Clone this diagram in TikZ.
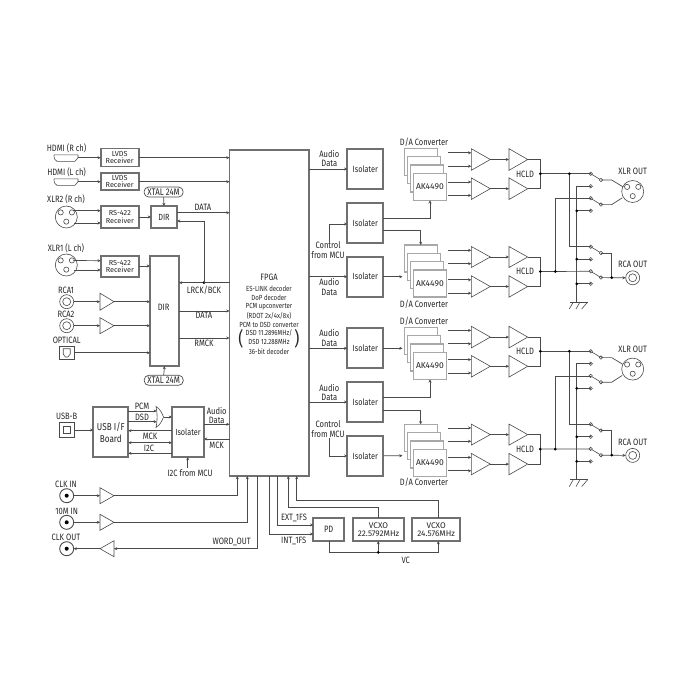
\documentclass[tikz,border=0pt]{standalone}
\usepackage{fontspec}
\setmainfont[FakeStretch=0.82]{Fira Sans}
\newfontfamily\widef[FakeStretch=1.0]{Fira Sans}
\usetikzlibrary{arrows.meta,calc}
\definecolor{ink}{HTML}{262626}
\definecolor{wirec}{HTML}{4A4A4A}
\definecolor{boxc}{HTML}{707070}
\definecolor{dacc}{HTML}{A8A8A8}
\newcounter{lbn}
\tikzset{
  wire/.style={draw=wirec,line width=.7pt},
  arr/.style={wire,-{Stealth[length=3.2pt,width=3pt]}},
  darr/.style={wire,{Stealth[length=3.2pt,width=3pt]}-{Stealth[length=3.2pt,width=3pt]}},
  shp/.style={draw=wirec,line width=.6pt},
  frame/.style={draw=boxc,line width=1.7pt,fill=white,inner sep=0pt,outer sep=0pt,align=center,text=ink},
  dacbox/.style={draw=dacc,line width=1.5pt,fill=white,inner sep=0pt,outer sep=0pt,align=center,text=ink},
  lab/.style={inner sep=0pt,outer sep=0pt,align=center,text=ink,font=\fontsize{9.2}{9.6}\selectfont},
  slab/.style={inner sep=0pt,outer sep=0pt,align=center,text=ink,font=\fontsize{7.4}{8}\selectfont},
  xtalb/.style={draw=wirec,line width=.7pt,rounded corners=4.5pt,inner sep=0pt,outer sep=0pt,minimum width=39pt,minimum height=10pt,text=ink,font=\fontsize{9.6}{10}\selectfont},
  swt/.style={draw=wirec,line width=.6pt,fill=white},
  ptdot/.style={fill=black},
  boxfont/.style={font=\fontsize{8.9}{9.4}\selectfont},
  bigfont/.style={font=\fontsize{10}{11}\selectfont},
  wfont/.style={font=\widef\fontsize{7.3}{7.6}\selectfont},
  vfont/.style={font=\widef\fontsize{8.2}{8.8}\selectfont},
  akfont/.style={font=\widef\fontsize{8.5}{9}\selectfont},
}
% box: name, x1,y1,x2,y2, text; optional style
\newcommand\bx[7][frame,boxfont]{%
  \pgfmathsetmacro\cxx{((#3)+(#5))/2}\pgfmathsetmacro\cyy{((#4)+(#6))/2}%
  \pgfmathsetmacro\wdd{(#5)-(#3)}\pgfmathsetmacro\htt{(#6)-(#4)}%
  \node[#1,minimum width=\wdd pt,minimum height=\htt pt] (#2) at (\cxx,\cyy) {#7};}
\newcommand\lb[4][lab]{\stepcounter{lbn}\node[#1] (lb\thelbn) at (#2,#3) {#4};}
% triangle: name, base x, tip x, y, half height
\newcommand\tri[5]{%
  \draw[shp,fill=white] (#2,#4-#5) -- (#3,#4) -- (#2,#4+#5) -- cycle;
  \coordinate (#1-in) at (#2,#4); \coordinate (#1-out) at (#3,#4);}
\newcommand\xlr[3]{%
  \node[circle,shp,minimum size=22pt,inner sep=0pt,outer sep=0pt] (#1) at (#2,#3) {};
  \draw[shp] ($(#1)+(-5.6,-4.6)$) circle[radius=2.6];
  \draw[shp] ($(#1)+(5.6,-4.6)$) circle[radius=2.6];
  \draw[shp] ($(#1)+(0,4.6)$) circle[radius=2.6];}
\newcommand\rcain[3]{%
  \node[circle,shp,minimum size=14pt,inner sep=0pt,outer sep=0pt] (#1) at (#2,#3) {};
  \draw[shp] (#1) circle[radius=4];}
\newcommand\clk[3]{%
  \node[circle,draw=wirec,line width=.9pt,minimum size=14pt,inner sep=0pt,outer sep=0pt] (#1) at (#2,#3) {};
  \fill[ptdot] (#1) circle[radius=2];}
\newcommand\hdmi[3]{%
  \draw[shp] (#2-12,#3-2.8) -- (#2+12,#3-2.8) -- (#2+12,#3) -- (#2+9,#3+3.6) -- (#2-9,#3+3.6) .. controls (#2-11,#3+3) and (#2-12,#3+1) .. (#2-12,#3-2.8);
  \coordinate (#1) at (#2+12,#3);}
\newcommand\dacstack[2]{%
  \bx[dacbox]{#1a}{404.3}{#2}{437.3}{#2+27}{}
  \bx[dacbox]{#1b}{407.4}{#2+8.4}{440.4}{#2+35.4}{}
  \bx[dacbox]{#1c}{410.4}{#2+16.7}{443.4}{#2+43.7}{}
  \bx[dacbox,akfont]{#1}{413.4}{#2+25}{446.4}{#2+52}{AK4490}}
\newcommand\sw[2]{%
  \coordinate (#1-a) at (590.7,#2);
  \coordinate (#1-c) at (601,#2+6.3);
  \coordinate (#1-b) at (590.7,#2+12.5);
  \draw[shp] (#1-a) -- (#1-c);
  \draw[swt] (#1-a) circle[radius=1.7];
  \draw[swt] (#1-c) circle[radius=1.7];
  \draw[swt] (#1-b) circle[radius=1.7];}
\begin{document}
\begin{tikzpicture}[x=1pt,y=-1pt]
\useasboundingbox (0,0) rectangle (688,688);
\fill[white] (0,0) rectangle (688,688);
% FPGA
\bx{fpga}{229.5}{150}{309}{476}{}
\lb{269}{277.3}{FPGA}
\lb[slab]{269}{289}{ES-LINK decoder}
\lb[slab]{269}{298}{DoP decoder}
\lb[slab]{269}{306.7}{PCM upconverter}
\lb[slab]{269}{316}{(RDOT 2x/4x/8x)}
\lb[slab]{269}{325}{PCM to DSD converter}
\lb[slab]{269}{333.3}{DSD 11.2896MHz/}
\lb[slab]{269}{342.3}{DSD 12.288MHz}
\lb[slab]{269}{351.7}{36-bit decoder}
\node[inner sep=0pt,text=ink,font=\fontsize{19}{19}\selectfont] (parL) at (241,338.5) {(};
\node[inner sep=0pt,text=ink,font=\fontsize{19}{19}\selectfont] (parR) at (297,338.5) {)};
% HDMI
\lb{66.6}{148}{HDMI (R ch)}
\lb{66.6}{172}{HDMI (L ch)}
\hdmi{hdmiR}{66}{157.7}
\hdmi{hdmiL}{66}{181.7}
\bx[frame,wfont]{lvdsR}{100.7}{148.5}{138.7}{166.5}{LVDS\\Receiver}
\bx[frame,wfont]{lvdsL}{100.7}{173.3}{138.7}{190}{LVDS\\Receiver}
\draw[arr] (hdmiR) -- (lvdsR.west |- hdmiR);
\draw[arr] (hdmiL) -- (lvdsL.west |- hdmiL);
\draw[arr] (lvdsR.east |- hdmiR) -- (fpga.west |- hdmiR);
\draw[arr] (lvdsL.east |- hdmiL) -- (fpga.west |- hdmiL);
% XLR2
\lb{66}{199.3}{XLR2 (R ch)}
\xlr{xlrR}{66.3}{217}
\bx[frame,wfont]{rsR}{100.7}{206}{139}{228}{RS-422\\Receiver}
\draw[arr] ($(xlrR.center)+(7,-6.3)$) -- (rsR.west |- 0,210.7);
\draw[arr] ($(xlrR.center)+(8,6)$) -- (rsR.west |- 0,223);
\bx{dirA}{151}{206}{177}{228}{DIR}
\draw[arr] (rsR.east |- dirA) -- (dirA.west);
\node[xtalb] (xtalA) at (163.6,192) {XTAL 24M};
\draw[arr] (xtalA.south) -- (dirA.north);
\lb{203}{207}{DATA}
\draw[arr] (dirA.east |- 0,212.7) -- (fpga.west |- 0,212.7);
% XLR1
\lb{66}{248.7}{XLR1 (L ch)}
\xlr{xlrL}{66.3}{265}
\bx[frame,wfont]{rsL}{100.7}{256}{139}{277}{RS-422\\Receiver}
\bx{dirB}{150}{256}{179}{366}{}
\lb{163.7}{307}{DIR}
\draw[arr] ($(xlrL.center)+(7,-4.5)$) -- (rsL.west |- 0,260.7);
\draw[arr] ($(xlrL.center)+(8,5)$) -- (rsL.west |- 0,270);
\draw[arr] (rsL.east |- 0,266) -- (dirB.west |- 0,266);
% RCA
\lb{66}{290}{RCA1}
\rcain{rca1}{66.7}{301.7}
\tri{ta1}{100}{114}{301.7}{8.5}
\draw[arr] (rca1) -- (ta1-in);
\draw[arr] (ta1-out) -- (dirB.west |- ta1-out);
\lb{66}{314}{RCA2}
\rcain{rca2}{66.7}{325.7}
\tri{ta2}{100}{114}{325.7}{8}
\draw[arr] (rca2) -- (ta2-in);
\draw[arr] (ta2-out) -- (dirB.west |- ta2-out);
\lb{66.7}{340.7}{OPTICAL}
\node[draw=wirec,line width=1pt,minimum width=15pt,minimum height=12.5pt,inner sep=0pt,outer sep=0pt] (opt) at (66.7,352.8) {};
\draw[shp] (63.2,348.7) -- (70.2,348.7) -- (70.2,354) -- (68,357) -- (65.4,357) -- (63.2,354) -- cycle;
\draw[arr] (opt.east) -- (dirB.west |- opt.east);
\node[xtalb] (xtalB) at (163.7,380.3) {XTAL 24M};
\draw[arr] (xtalB.north) -- (dirB.south);
% LRCK etc
\coordinate (jLR) at (204,282.7);
\draw[arr] (fpga.west |- jLR) -- (dirB.east |- jLR);
\fill[ptdot] (jLR) circle[radius=1.5];
\draw[arr] (jLR) |- (dirA.east |- 0,221);
\lb{204}{290}{LRCK/BCK}
\draw[arr] (dirB.east |- 0,311) -- (fpga.west |- 0,311);
\lb{204}{315.7}{DATA}
\draw[arr] (dirB.east |- 0,338) -- (fpga.west |- 0,338);
\lb{204}{343}{RMCK}
% USB
\lb{66.7}{416}{USB-B}
\node[draw=wirec,line width=1pt,minimum width=15pt,minimum height=15pt,inner sep=0pt,outer sep=0pt] (usb) at (66.7,430) {};
\node[draw=wirec,line width=.6pt,minimum width=7pt,minimum height=7pt,inner sep=0pt,outer sep=0pt] (usbin) at (66.7,430) {};
\bx[frame,bigfont]{usbif}{93.3}{407}{128.3}{457.3}{USB I/F\\[1pt]Board}
\draw[arr] (usb.east) -- (usbif.west |- usb.east);
\bx{isoU}{172}{407}{204}{457}{Isolater}
\draw[shp] (156,406.5) .. controls (160,409) and (162,413) .. (163.5,417) .. controls (162,421) and (160,425) .. (156,427.5) .. controls (157.5,421) and (157.5,413) .. (156,406.5) -- cycle;
\coordinate (gate) at (163.5,417);
\draw[arr] (usbif.east |- 0,411) -- (156.8,411);
\draw[arr] (usbif.east |- 0,421.7) -- (156.8,421.7);
\lb{142}{406}{PCM}
\lb{142}{417.7}{DSD}
\draw[arr] (gate) -- (isoU.west |- gate);
\draw[arr] (isoU.west |- 0,430.7) -- (usbif.east |- 0,430.7);
\lb{150}{436.3}{MCK}
\draw[darr] (isoU.west |- 0,442.7) -- (usbif.east |- 0,442.7);
\lb{149}{448}{I2C}
\draw[arr] (isoU.west |- 0,453.3) -- (usbif.east |- 0,453.3);
\lb{216.7}{415.3}{Audio\\Data}
\draw[arr] (isoU.east |- 0,424.3) -- (fpga.west |- 0,424.3);
\draw[arr] (fpga.west |- 0,439) -- (isoU.east |- 0,439);
\lb{216.7}{445.7}{MCK}
\coordinate (i2cEnd) at (187.7,467.5);
\draw[arr] (i2cEnd) -- (isoU.south -| i2cEnd);
\lb{190}{473}{I2C from MCU}
% clocks
\lb{66}{484}{CLK IN}
\clk{clk1}{66.7}{495.7}
\tri{tc1}{100}{114}{495.7}{8}
\draw[arr] (clk1) -- (tc1-in);
\coordinate (fb1) at (237.3,476);
\draw[arr] (tc1-out) -| (fb1);
\lb{66.7}{511.3}{10M IN}
\clk{clk2}{66.7}{522.3}
\tri{tc2}{100}{114}{522.3}{8}
\draw[arr] (clk2) -- (tc2-in);
\coordinate (fb2) at (247.3,476);
\draw[arr] (tc2-out) -| (fb2);
\lb{66}{537.7}{CLK OUT}
\clk{clk3}{66.7}{548.7}
\tri{tc3}{114}{100}{548.7}{8}
\draw[arr] (tc3-out) -- (clk3);
\coordinate (fb3) at (257.3,476);
\draw[arr] (fb3) |- (tc3-in);
\lb{231.7}{542}{WORD\_OUT}
% PLL
\bx[frame,lab]{pd}{313.3}{518.3}{344}{541}{PD}
\bx[frame,vfont]{vcxoA}{352.7}{518.3}{404.3}{541}{VCXO\\22.5792MHz}
\bx[frame,vfont]{vcxoB}{412.3}{518.3}{460}{541}{VCXO\\24.576MHz}
\coordinate (fb4) at (269.3,476);
\coordinate (fb5) at (277.7,476);
\coordinate (fb6) at (288.3,476);
\coordinate (fb7) at (296.7,476);
\draw[arr] (fb5) |- (pd.west |- 0,525);
\draw[arr] (fb4) |- (pd.west |- 0,534);
\lb{294}{517.7}{EXT\_1FS}
\lb{293.7}{541}{INT\_1FS}
\coordinate (vA) at (378.3,518.3);
\coordinate (vB) at (438.3,518.3);
\draw[arr] (vA) |- (288.3,507.3) -- (fb6);
\draw[arr] (vB) |- (296.7,500) -- (fb7);
\coordinate (vcj) at (378.3,552.3);
\draw[wire] (pd.south -| 329.3,0) |- (vcj);
\draw[arr] (vcj) -| (vcxoB.south -| vB);
\draw[arr] (vcj) -- (vcxoA.south -| vcj);
\fill[ptdot] (vcj) circle[radius=1.5];
\lb{405.7}{560}{VC}
% Isolators, upper
\bx{isA}{347.3}{149}{383.3}{189}{Isolater}
\bx{isB}{347.3}{202.7}{383.3}{243.3}{Isolater}
\bx{isC}{347.3}{256.7}{383.3}{296.7}{Isolater}
\bx{isD}{347.3}{328.3}{383.3}{368.3}{Isolater}
\bx{isE}{347.3}{381.7}{383.3}{422.3}{Isolater}
\bx{isF}{347.3}{435.7}{383.3}{476}{Isolater}
\draw[arr] (fpga.east |- isA) -- (isA.west);
\draw[arr] (fpga.east |- isC) -- (isC.west);
\draw[arr] (fpga.east |- isD) -- (isD.west);
\draw[arr] (fpga.east |- isE) -- (isE.west);
\lb{329.3}{158.5}{Audio\\Data}
\lb{329.3}{286.7}{Audio\\Data}
\lb{329.3}{338}{Audio\\Data}
\lb{329.3}{392.3}{Audio\\Data}
\lb{328}{250}{Control\\from MCU}
\lb{328}{429.3}{Control\\from MCU}
\coordinate (ctlA) at (329.3,242);
\draw[arr] (ctlA) |- (isB.west |- 0,224);
\coordinate (ctlB) at (329.3,438);
\draw[arr] (ctlB) |- (isF.west);
% DACs
\dacstack{dacA}{148.3}
\dacstack{dacB}{245}
\dacstack{dacC}{327.3}
\dacstack{dacD}{424.3}
\lb{424}{142.3}{D/A Converter}
\lb{424}{304}{D/A Converter}
\lb{424}{321.7}{D/A Converter}
\lb{424}{482.3}{D/A Converter}
\coordinate (inB) at (402.5,276.7);
\coordinate (inC) at (402.5,348.3);
\coordinate (inD) at (402.5,455.7);
\draw[arr] (isC.east) -- (inB);
\draw[arr] (isD.east) -- (inC);
\draw[arr] (isF.east) -- (inD);
\draw[arr] (isB.east |- 0,218) -| (dacA.south -| 430,0);
\draw[arr] (isB.east |- 0,230.7) -| (dacBa.north -| 420.7,0);
\draw[arr] (isE.east |- 0,397.3) -| (dacC.south -| 430,0);
\draw[arr] (isE.east |- 0,410.3) -| (dacDa.north -| 420.7,0);
% right-hand section, twice
\foreach \p/\s in {u/0,l/177.6}{
\begin{scope}[shift={(0,\s)}]
  \tri{\p a1}{471.3}{490.3}{159.5}{10.8}
  \tri{\p a2}{471.3}{490.3}{188.7}{10.8}
  \tri{\p a3}{471.3}{490.3}{257}{10.5}
  \tri{\p a4}{471.3}{490.3}{286.5}{10.7}
  \tri{\p h1}{509}{527.7}{159.5}{10.8}
  \tri{\p h2}{509}{527.7}{188.7}{10.8}
  \tri{\p h3}{509}{527.7}{257}{10.5}
  \tri{\p h4}{509}{527.7}{286.5}{10.7}
  \foreach \n in {1,2,3,4}{
    \draw[arr] ($(\p a\n-in)+(-23,-6.7)$) -- ($(\p a\n-in)+(0,-6.7)$);
    \draw[arr] ($(\p a\n-in)+(-23,6.7)$) -- ($(\p a\n-in)+(0,6.7)$);
    \draw[arr] (\p a\n-out) -- (\p h\n-in);
  }
  \coordinate (\p m1) at (540.3,173.7);
  \coordinate (\p m2) at (540.3,271.5);
  \draw[wire] (\p h1-out) -| (\p h2-out -| \p m1) -- (\p h2-out);
  \draw[wire] (\p h3-out) -| (\p h4-out -| \p m2) -- (\p h4-out);
  \lb{525}{174}{HCLD}
  \lb{525}{271.7}{HCLD}
  \sw{\p s1}{173.7}
  \sw{\p s2}{198.3}
  \sw{\p s3}{246.7}
  \sw{\p s4}{271.3}
  \coordinate (\p j1) at (569.3,173.7);
  \coordinate (\p j2) at (555.3,271.5);
  \draw[wire] (\p m1) -- (\p s1-a);
  \draw[wire] (\p j1) |- (\p s3-a);
  \draw[wire] (\p m2) -- (\p s4-a);
  \draw[wire] (\p j2) |- (\p s2-a);
  \coordinate (\p g) at (576.7,302);
  \draw[wire] (\p s1-b) -| (\p g);
  \draw[wire] (\p s2-b -| \p g) -- (\p s2-b);
  \draw[wire] (\p s3-b -| \p g) -- (\p s3-b);
  \draw[wire] (\p s4-b -| \p g) -- (\p s4-b);
  \draw[shp] (570,302) -- (587.7,302);
  \draw[shp] (573.3,302) -- (569.3,309) (580,302) -- (576,309) (587.7,302) -- (581.7,309);
  \foreach \d in {\p m1,\p m2,\p j1,\p j2}{\fill[ptdot] (\d) circle[radius=1.5];}
  \foreach \d in {\p s2-b,\p s3-b,\p s4-b}{\fill[ptdot] (\d -| \p g) circle[radius=1.5];}
  \xlr{\p xo}{632.7}{191.5}
  \lb{632.7}{171.7}{XLR OUT}
  \draw[wire] (\p s1-c) -- (611.7,180) -- (622.7,186.7);
  \draw[wire] (\p s2-c) -- (611.7,204.6) -- (622.3,197.8);
  \lb{632.7}{264.3}{RCA OUT}
  \rcain{\p ro}{632.7}{277.8}
  \coordinate (\p rj) at (611.7,277.6);
  \draw[wire] (\p s3-c) -| (\p rj);
  \draw[arr] (\p s4-c) -- (\p ro.west);
  \fill[ptdot] (\p rj) circle[radius=1.5];
\end{scope}}
\end{tikzpicture}
\end{document}
